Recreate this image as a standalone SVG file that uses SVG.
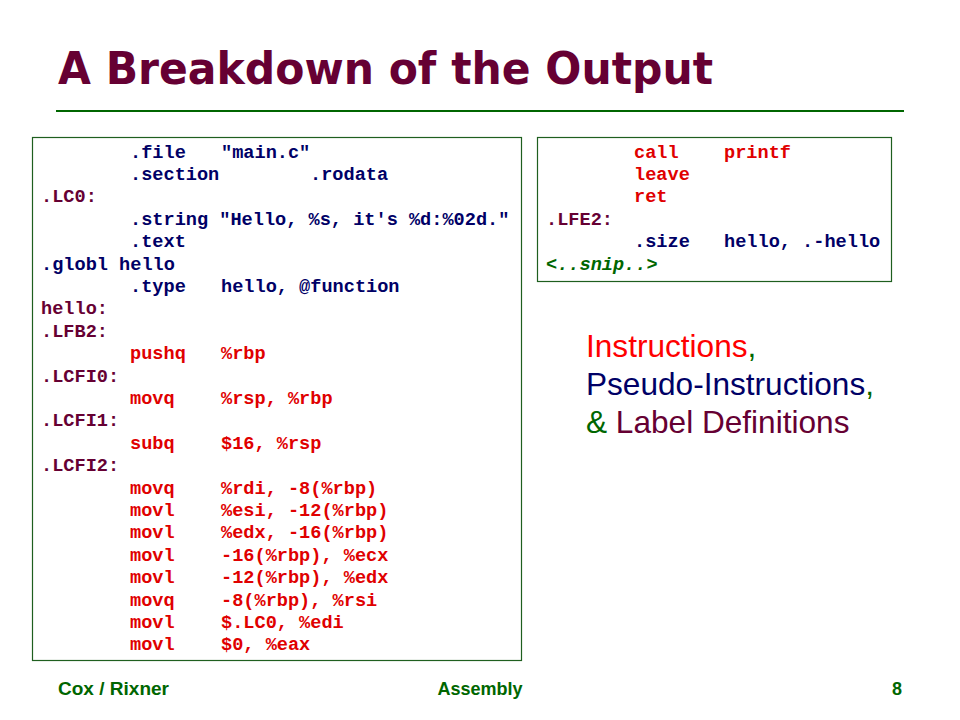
<svg xmlns="http://www.w3.org/2000/svg" width="960" height="720" viewBox="0 0 960 720">
<style>
.code{font-family:"Liberation Mono","Courier New",monospace;font-weight:bold;font-size:18.6px}
.ps{fill:#000066}
.in{fill:#E00000}
.lb{fill:#660033}
.sn{fill:#006600;font-style:italic}
.box{fill:#ffffff;stroke:#1F5F1F;stroke-width:1.2}
.leg{font-family:"Liberation Sans",Arial,sans-serif;font-size:31.6px}
.foot{font-family:"Liberation Sans",Arial,sans-serif;font-weight:bold;font-size:18px;fill:#006600}
</style>
<rect width="960" height="720" fill="#ffffff"/>
<g id="title">
<text x="58" y="84" font-family="'DejaVu Sans','Open Sans',sans-serif" font-weight="bold" font-size="44" fill="#660033" textLength="655" lengthAdjust="spacingAndGlyphs">A Breakdown of the Output</text>
<line x1="56" y1="111" x2="904" y2="111" stroke="#006600" stroke-width="2"/>
</g>
<g id="code-left">
<rect class="box" x="32.5" y="137.5" width="489" height="523"/>
<text class="code"><tspan class="ps" x="130" y="157.5">.file</tspan><tspan class="ps" x="221" y="157.5">"main.c"</tspan></text>
<text class="code"><tspan class="ps" x="130" y="179.9">.section</tspan><tspan class="ps" x="310" y="179.9">.rodata</tspan></text>
<text class="code"><tspan class="lb" x="41" y="202.3">.LC0:</tspan></text>
<text class="code"><tspan class="ps" x="130" y="224.7">.string "Hello, %s, it's %d:%02d."</tspan></text>
<text class="code"><tspan class="ps" x="130" y="247.1">.text</tspan></text>
<text class="code"><tspan class="ps" x="41" y="269.5">.globl hello</tspan></text>
<text class="code"><tspan class="ps" x="130" y="291.9">.type</tspan><tspan class="ps" x="221" y="291.9">hello, @function</tspan></text>
<text class="code"><tspan class="lb" x="41" y="314.3">hello:</tspan></text>
<text class="code"><tspan class="lb" x="41" y="336.7">.LFB2:</tspan></text>
<text class="code"><tspan class="in" x="130" y="359.1">pushq</tspan><tspan class="in" x="221" y="359.1">%rbp</tspan></text>
<text class="code"><tspan class="lb" x="41" y="381.5">.LCFI0:</tspan></text>
<text class="code"><tspan class="in" x="130" y="403.9">movq</tspan><tspan class="in" x="221" y="403.9">%rsp, %rbp</tspan></text>
<text class="code"><tspan class="lb" x="41" y="426.3">.LCFI1:</tspan></text>
<text class="code"><tspan class="in" x="130" y="448.7">subq</tspan><tspan class="in" x="221" y="448.7">$16, %rsp</tspan></text>
<text class="code"><tspan class="lb" x="41" y="471.1">.LCFI2:</tspan></text>
<text class="code"><tspan class="in" x="130" y="493.5">movq</tspan><tspan class="in" x="221" y="493.5">%rdi, -8(%rbp)</tspan></text>
<text class="code"><tspan class="in" x="130" y="515.9">movl</tspan><tspan class="in" x="221" y="515.9">%esi, -12(%rbp)</tspan></text>
<text class="code"><tspan class="in" x="130" y="538.3">movl</tspan><tspan class="in" x="221" y="538.3">%edx, -16(%rbp)</tspan></text>
<text class="code"><tspan class="in" x="130" y="560.7">movl</tspan><tspan class="in" x="221" y="560.7">-16(%rbp), %ecx</tspan></text>
<text class="code"><tspan class="in" x="130" y="583.1">movl</tspan><tspan class="in" x="221" y="583.1">-12(%rbp), %edx</tspan></text>
<text class="code"><tspan class="in" x="130" y="605.5">movq</tspan><tspan class="in" x="221" y="605.5">-8(%rbp), %rsi</tspan></text>
<text class="code"><tspan class="in" x="130" y="627.9">movl</tspan><tspan class="in" x="221" y="627.9">$.LC0, %edi</tspan></text>
<text class="code"><tspan class="in" x="130" y="650.3">movl</tspan><tspan class="in" x="221" y="650.3">$0, %eax</tspan></text>
</g>
<g id="code-right">
<rect class="box" x="537.5" y="137.5" width="354" height="144"/>
<text class="code"><tspan class="in" x="634" y="157.5">call</tspan><tspan class="in" x="724" y="157.5">printf</tspan></text>
<text class="code"><tspan class="in" x="634" y="179.9">leave</tspan></text>
<text class="code"><tspan class="in" x="634" y="202.3">ret</tspan></text>
<text class="code"><tspan class="lb" x="546" y="224.7">.LFE2:</tspan></text>
<text class="code"><tspan class="ps" x="634" y="247.1">.size</tspan><tspan class="ps" x="724" y="247.1">hello, .-hello</tspan></text>
<text class="code"><tspan class="sn" x="546" y="269.5">&lt;..snip..&gt;</tspan></text>
</g>
<g id="legend">
<text class="leg" x="586" y="357"><tspan fill="#FF0000">Instructions</tspan><tspan fill="#006600">,</tspan></text>
<text class="leg" x="586" y="395"><tspan fill="#000066">Pseudo-Instructions</tspan><tspan fill="#006600">,</tspan></text>
<text class="leg" x="586" y="433"><tspan fill="#006600">&amp;</tspan><tspan fill="#660033"> Label Definitions</tspan></text>
</g>
<g id="footer">
<text class="foot" x="58" y="695" textLength="111" lengthAdjust="spacingAndGlyphs">Cox / Rixner</text>
<text class="foot" x="480" y="695" text-anchor="middle">Assembly</text>
<text class="foot" x="902" y="695" text-anchor="end">8</text>
</g>
</svg>
